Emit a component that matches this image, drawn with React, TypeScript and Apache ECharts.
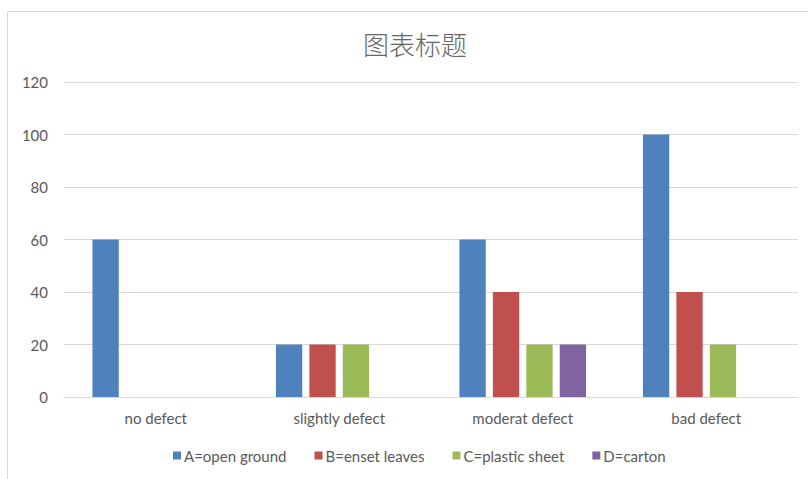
import React, { useEffect, useRef } from "react";
import * as echarts from "echarts";

const categories = ["no defect", "slightly defect", "moderat defect", "bad defect"];
const seriesNames = ["A=open ground", "B=enset leaves", "C=plastic sheet", "D=carton"];
const seriesA = [60, 20, 60, 100];
const seriesB = [0, 20, 40, 40];
const seriesC = [0, 20, 20, 20];
const seriesD = [0, 0, 20, 0];
const colors = ["#4f81bd", "#c0504d", "#9bbb59", "#8064a2"];
const yTicks = { min: 0, max: 120, interval: 20 };

export default function App() {
  const ref = useRef<HTMLDivElement>(null);
  useEffect(() => {
    document.body.style.margin = "0";
    const chart = echarts.init(ref.current!, null, { renderer: "svg" });
    const font = "Lato, 'Noto Sans', sans-serif";
    const data = [seriesA, seriesB, seriesC, seriesD];
    chart.setOption({
      animation: false,
      backgroundColor: "#ffffff",
      title: {
        text: "图表标题",
        left: 358,
        top: 25,
        textStyle: {
          fontFamily: "'Noto Sans CJK SC', sans-serif",
          fontSize: 26,
          fontWeight: 300,
          color: "#666666",
        },
      },
      legend: {
        bottom: 11,
        left: 168,
        itemWidth: 8,
        itemHeight: 8,
        itemGap: 28,
        icon: "rect",
        textStyle: { fontFamily: font, fontSize: 15, color: "#595959", padding: [0, 0, 0, -2] },
        data: seriesNames,
      },
      grid: { left: 64, right: 10, top: 82, bottom: 82, containLabel: false },
      xAxis: {
        type: "category",
        data: categories,
        axisLine: { lineStyle: { color: "#d9d9d9", width: 1 } },
        axisTick: { show: false },
        axisLabel: { fontFamily: font, fontSize: 15, color: "#595959", margin: 13 },
      },
      yAxis: {
        type: "value",
        min: yTicks.min,
        max: yTicks.max,
        interval: yTicks.interval,
        axisLine: { show: false },
        axisTick: { show: false },
        splitLine: { lineStyle: { color: "#d9d9d9", width: 1 } },
        axisLabel: { fontFamily: font, fontSize: 15, color: "#595959", margin: 16 },
      },
      graphic: [
        {
          type: "rect",
          shape: { x: 7.5, y: 11.5, width: 830, height: 520 },
          style: { fill: "none", stroke: "#d9d9d9", lineWidth: 1 },
          silent: true,
          z: -1,
        },
      ],
      series: seriesNames.map((name, i) => ({
        name,
        type: "bar",
        data: data[i],
        itemStyle: { color: colors[i] },
        barGap: "27%",
        barCategoryGap: "31%",
      })),
    });
    return () => chart.dispose();
  }, []);
  return <div ref={ref} style={{ width: 808, height: 479 }} />;
}
